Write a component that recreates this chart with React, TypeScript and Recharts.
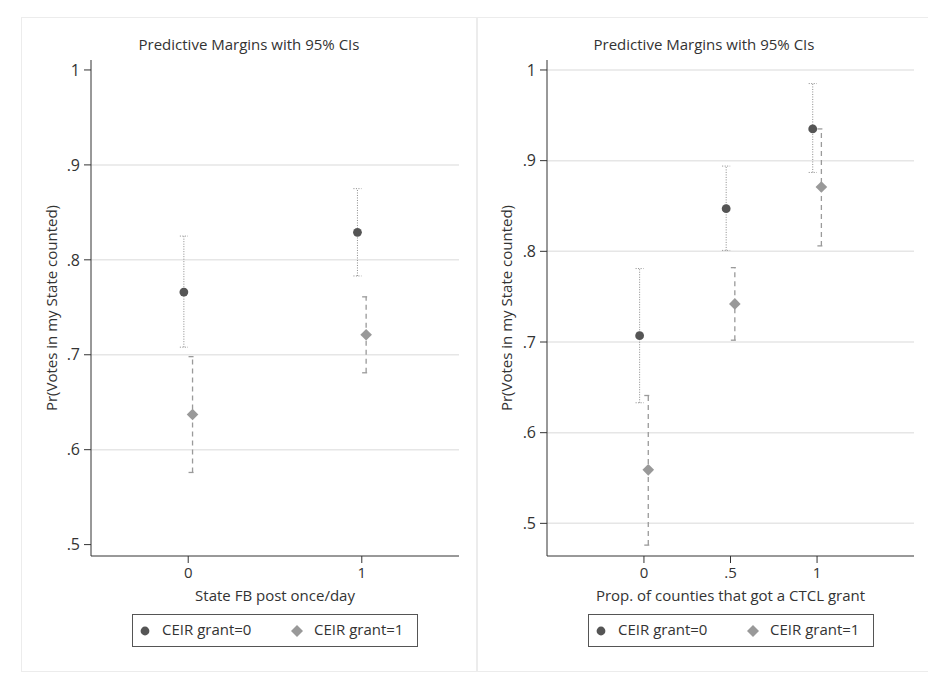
import { ScatterChart, Scatter, XAxis, YAxis, ErrorBar, ReferenceLine } from 'recharts';

const FONT = '"Open Sans", sans-serif';
const TEXT = '#333';

// left panel: State FB post once/day
const fbCats = [0, 1];
const fbG0 = [0.766, 0.829];
const fbG0Lo = [0.708, 0.783];
const fbG0Hi = [0.825, 0.875];
const fbG1 = [0.637, 0.721];
const fbG1Lo = [0.576, 0.681];
const fbG1Hi = [0.698, 0.761];
const fbXTicks = [0, 1];
const fbYTicks = [0.5, 0.6, 0.7, 0.8, 0.9, 1];
const fbGrid = [0.6, 0.7, 0.8, 0.9];

// right panel: share of counties with CTCL grant
const ctclCats = [0, 0.5, 1];
const ctclG0 = [0.707, 0.847, 0.935];
const ctclG0Lo = [0.633, 0.801, 0.887];
const ctclG0Hi = [0.781, 0.894, 0.985];
const ctclG1 = [0.559, 0.742, 0.871];
const ctclG1Lo = [0.476, 0.702, 0.806];
const ctclG1Hi = [0.641, 0.782, 0.935];
const ctclXTicks = [0, 0.5, 1];
const ctclYTicks = [0.5, 0.6, 0.7, 0.8, 0.9, 1];
const ctclGrid = [0.5, 0.6, 0.7, 0.8, 0.9, 1];

const DODGE = 0.025;

const fmt = (v: number) => (v === 0 || v === 1 ? String(v) : String(v).replace(/^0/, ''));

const rows = (cats: number[], vals: number[], lo: number[], hi: number[], shift: number) =>
  cats.map((c, i) => ({ x: c + shift, y: vals[i], err: [vals[i] - lo[i], hi[i] - vals[i]] }));

const Dot = (p: any) => <circle cx={p.cx} cy={p.cy} r={4.4} fill="#555" />;
const Diamond = (p: any) => {
  const r = 5.8;
  return <polygon points={`${p.cx},${p.cy - r} ${p.cx + r},${p.cy} ${p.cx},${p.cy + r} ${p.cx - r},${p.cy}`} fill="#999" />;
};

type PanelProps = {
  left: number;
  width: number;
  yAxisWidth: number;
  yLabelOffset: number;
  rightMargin: number;
  xLabel: string;
  cats: number[];
  g0: number[]; g0Lo: number[]; g0Hi: number[];
  g1: number[]; g1Lo: number[]; g1Hi: number[];
  xTicks: number[];
  yTicks: number[];
  yDomain: [number, number];
  grid: number[];
};

function Panel(p: PanelProps) {
  const d0 = rows(p.cats, p.g0, p.g0Lo, p.g0Hi, -DODGE);
  const d1 = rows(p.cats, p.g1, p.g1Lo, p.g1Hi, DODGE);
  return (
    <div style={{ position: 'absolute', left: p.left, top: 0 }}>
      <ScatterChart width={p.width} height={671} margin={{ top: 60, right: p.rightMargin, bottom: 0, left: 0 }}>
        <XAxis
          type="number"
          dataKey="x"
          domain={[-0.56, 1.56]}
          ticks={p.xTicks}
          allowDataOverflow
          tickFormatter={fmt}
          height={115}
          stroke="#333"
          tickSize={7}
          tickMargin={4}
          tick={{ fill: TEXT, fontSize: 15, fontFamily: FONT }}
          label={{ value: p.xLabel, position: 'insideTop', offset: 34, fill: TEXT, fontSize: 15, fontFamily: FONT }}
        />
        <YAxis
          type="number"
          dataKey="y"
          domain={p.yDomain}
          ticks={p.yTicks}
          allowDataOverflow
          tickFormatter={fmt}
          width={p.yAxisWidth}
          stroke="#333"
          tickSize={7}
          tickMargin={4}
          tick={{ fill: TEXT, fontSize: 16, fontFamily: FONT }}
          label={{
            value: 'Pr(Votes in my State counted)',
            angle: -90,
            position: 'insideLeft',
            offset: p.yLabelOffset,
            fill: TEXT,
            fontSize: 15,
            fontFamily: FONT,
            style: { textAnchor: 'middle' },
          }}
        />
        {p.grid.map((g) => (
          <ReferenceLine key={g} y={g} stroke="#e6e6e6" strokeWidth={1.5} />
        ))}
        <Scatter data={d0} shape={Dot} isAnimationActive={false}>
          <ErrorBar dataKey="err" direction="y" width={4} stroke="#8a8a8a" strokeWidth={1} strokeDasharray="1 1.5" isAnimationActive={false} />
        </Scatter>
        <Scatter data={d1} shape={Diamond} isAnimationActive={false}>
          <ErrorBar dataKey="err" direction="y" width={4} stroke="#9a9a9a" strokeWidth={1.3} strokeDasharray="5 4" isAnimationActive={false} />
        </Scatter>
      </ScatterChart>
    </div>
  );
}

function LegendBox({ left }: { left: number }) {
  return (
    <div
      style={{
        position: 'absolute', left, top: 614, width: 284, height: 31,
        border: '1px solid #555', fontFamily: FONT, fontSize: 15, color: TEXT,
      }}
    >
      <svg width={12} height={12} style={{ position: 'absolute', left: 6, top: 10 }}>
        <circle cx={6} cy={6} r={4.4} fill="#555" />
      </svg>
      <span style={{ position: 'absolute', left: 29, top: 4 }}>CEIR grant=0</span>
      <svg width={14} height={14} style={{ position: 'absolute', left: 157, top: 9 }}>
        <polygon points="7,1 13,7 7,13 1,7" fill="#999" />
      </svg>
      <span style={{ position: 'absolute', left: 181, top: 4 }}>CEIR grant=1</span>
    </div>
  );
}

function Title({ center }: { center: number }) {
  return (
    <div
      style={{
        position: 'absolute', left: center - 150, width: 300, top: 34, textAlign: 'center',
        fontFamily: FONT, fontSize: 15, color: TEXT,
      }}
    >
      Predictive Margins with 95% CIs
    </div>
  );
}

export default function App() {
  return (
    <div style={{ position: 'relative', width: 936, height: 685, margin: -8, background: '#fff', overflow: 'hidden' }}>
      <div style={{ position: 'absolute', left: 6, top: 3, width: 940, height: 680, border: '1px solid #efefef' }} />
      <div style={{ position: 'absolute', left: 21, top: 17, width: 910, height: 653, border: '1px solid #ececec' }} />
      <div style={{ position: 'absolute', left: 476, top: 17, width: 2, height: 654, background: '#ececec' }} />
      <Panel
        left={0}
        width={476}
        yAxisWidth={91}
        yLabelOffset={52}
        rightMargin={17}
        xLabel="State FB post once/day"
        cats={fbCats}
        g0={fbG0} g0Lo={fbG0Lo} g0Hi={fbG0Hi}
        g1={fbG1} g1Lo={fbG1Lo} g1Hi={fbG1Hi}
        xTicks={fbXTicks}
        yTicks={fbYTicks}
        yDomain={[0.488, 1.0105]}
        grid={fbGrid}
      />
      <Panel
        left={476}
        width={456}
        yAxisWidth={71}
        yLabelOffset={31}
        rightMargin={18}
        xLabel="Prop. of counties that got a CTCL grant"
        cats={ctclCats}
        g0={ctclG0} g0Lo={ctclG0Lo} g0Hi={ctclG0Hi}
        g1={ctclG1} g1Lo={ctclG1Lo} g1Hi={ctclG1Hi}
        xTicks={ctclXTicks}
        yTicks={ctclYTicks}
        yDomain={[0.464, 1.011]}
        grid={ctclGrid}
      />
      <Title center={249} />
      <Title center={704} />
      <LegendBox left={132} />
      <LegendBox left={588} />
    </div>
  );
}
